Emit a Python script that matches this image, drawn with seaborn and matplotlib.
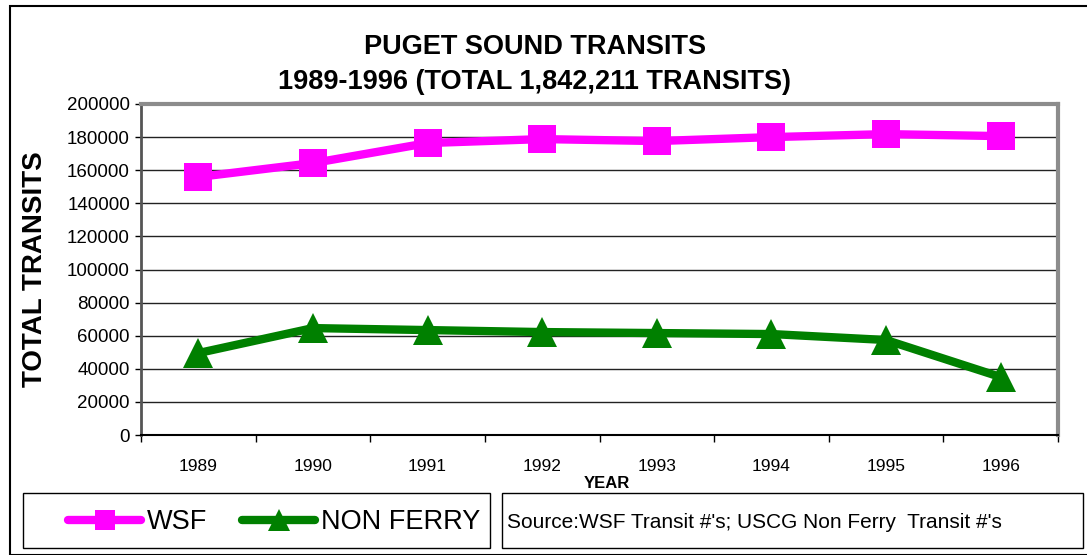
import matplotlib
matplotlib.use("Agg")
import matplotlib.pyplot as plt
import matplotlib.patches as mpatches
from matplotlib.ticker import FixedLocator, MultipleLocator, StrMethodFormatter
import pandas as pd
import seaborn as sns

# Data
years = ["1989", "1990", "1991", "1992", "1993", "1994", "1995", "1996"]
wsf = [155900, 164300, 176400, 178800, 177600, 180000, 181800, 180600]
non_ferry = [49500, 64600, 63400, 62200, 61600, 61000, 57400, 35000]

WSF_COLOR = "#ff00ff"
NF_COLOR = "#008000"

sns.set_theme(style="white")
plt.rcParams["font.family"] = ["Liberation Sans", "DejaVu Sans"]
plt.rcParams.update({"text.color": "black", "axes.labelcolor": "black",
                     "xtick.color": "black", "ytick.color": "black"})

df = pd.DataFrame({"year": years, "WSF": wsf, "NON FERRY": non_ferry})

fig = plt.figure(figsize=(10.87, 5.55), dpi=100)
ax = fig.add_axes([141 / 1087, 1 - 435 / 555, (1058 - 141) / 1087, (435 - 104) / 555])

sns.lineplot(data=df, x="year", y="WSF", ax=ax, color=WSF_COLOR, linewidth=6,
             marker="s", markersize=20, markeredgewidth=0, label="WSF", sort=False, zorder=3)
sns.lineplot(data=df, x="year", y="NON FERRY", ax=ax, color=NF_COLOR, linewidth=6,
             marker="^", markersize=21, markeredgewidth=0, label="NON FERRY", sort=False, zorder=3)

ax.set_xlim(-0.5, len(years) - 0.5)
ax.set_ylim(0, 200000)
ax.yaxis.set_major_locator(MultipleLocator(20000))
ax.yaxis.set_major_formatter(StrMethodFormatter("{x:.0f}"))
ax.grid(axis="y", color="#222222", linewidth=1)
ax.grid(axis="x", visible=False)
ax.set_axisbelow(True)

ax.xaxis.set_minor_locator(FixedLocator([i - 0.5 for i in range(len(years) + 1)]))
ax.tick_params(axis="x", which="major", length=0, pad=17, labelsize=12.5)
ax.tick_params(axis="x", which="minor", length=5, width=1, direction="out", color="black", bottom=True)
ax.tick_params(axis="y", which="major", length=4, width=1, direction="out", color="black",
               left=True, labelsize=13.5, pad=4)

for side in ["top", "right"]:
    ax.spines[side].set_color("#8c8c8c")
    ax.spines[side].set_linewidth(3)
ax.spines["left"].set_color("#555555")
ax.spines["left"].set_linewidth(2)
ax.spines["bottom"].set_color("black")
ax.spines["bottom"].set_linewidth(1.5)

ax.set_xlabel("YEAR", fontsize=12, fontweight="bold")
ax.set_ylabel("TOTAL TRANSITS", fontsize=20, fontweight="bold")
ax.xaxis.set_label_coords(0.508, -0.124)
ax.yaxis.set_label_coords(-0.101, 0.5)

handles, labels = ax.get_legend_handles_labels()
ax.get_legend().remove()

fig.text(535 / 1087, 1 - 47 / 555, "PUGET SOUND TRANSITS", ha="center", va="center",
         fontsize=19.5, fontweight="bold")
fig.text(535 / 1087, 1 - 82 / 555, "1989-1996 (TOTAL 1,842,211 TRANSITS)", ha="center", va="center",
         fontsize=19.5, fontweight="bold")

# outer frame
fig.patches.append(mpatches.Rectangle((10 / 1087, 0.0), 1.2, 1 - 6 / 555, transform=fig.transFigure,
                                      fill=False, edgecolor="black", linewidth=1.5))
# legend box and source box
fig.patches.append(mpatches.Rectangle((23 / 1087, 1 - 548 / 555), (490 - 23) / 1087, 55 / 555,
                                      transform=fig.transFigure, fill=False, edgecolor="black", linewidth=1))
fig.patches.append(mpatches.Rectangle((502 / 1087, 1 - 548 / 555), (1083 - 502) / 1087, 55 / 555,
                                      transform=fig.transFigure, fill=False, edgecolor="black", linewidth=1))

fig.legend(handles, labels, loc="center", bbox_to_anchor=(274 / 1087, 1 - 522 / 555), ncol=2,
           frameon=False, fontsize=19.5, handlelength=2.7, handletextpad=0.2, columnspacing=1.3,
           markerscale=0.75)

fig.text(507 / 1087, 1 - 523 / 555, "Source:WSF Transit #'s; USCG Non Ferry  Transit #'s",
         ha="left", va="center", fontsize=15)

fig.savefig("out.png", dpi=100)
